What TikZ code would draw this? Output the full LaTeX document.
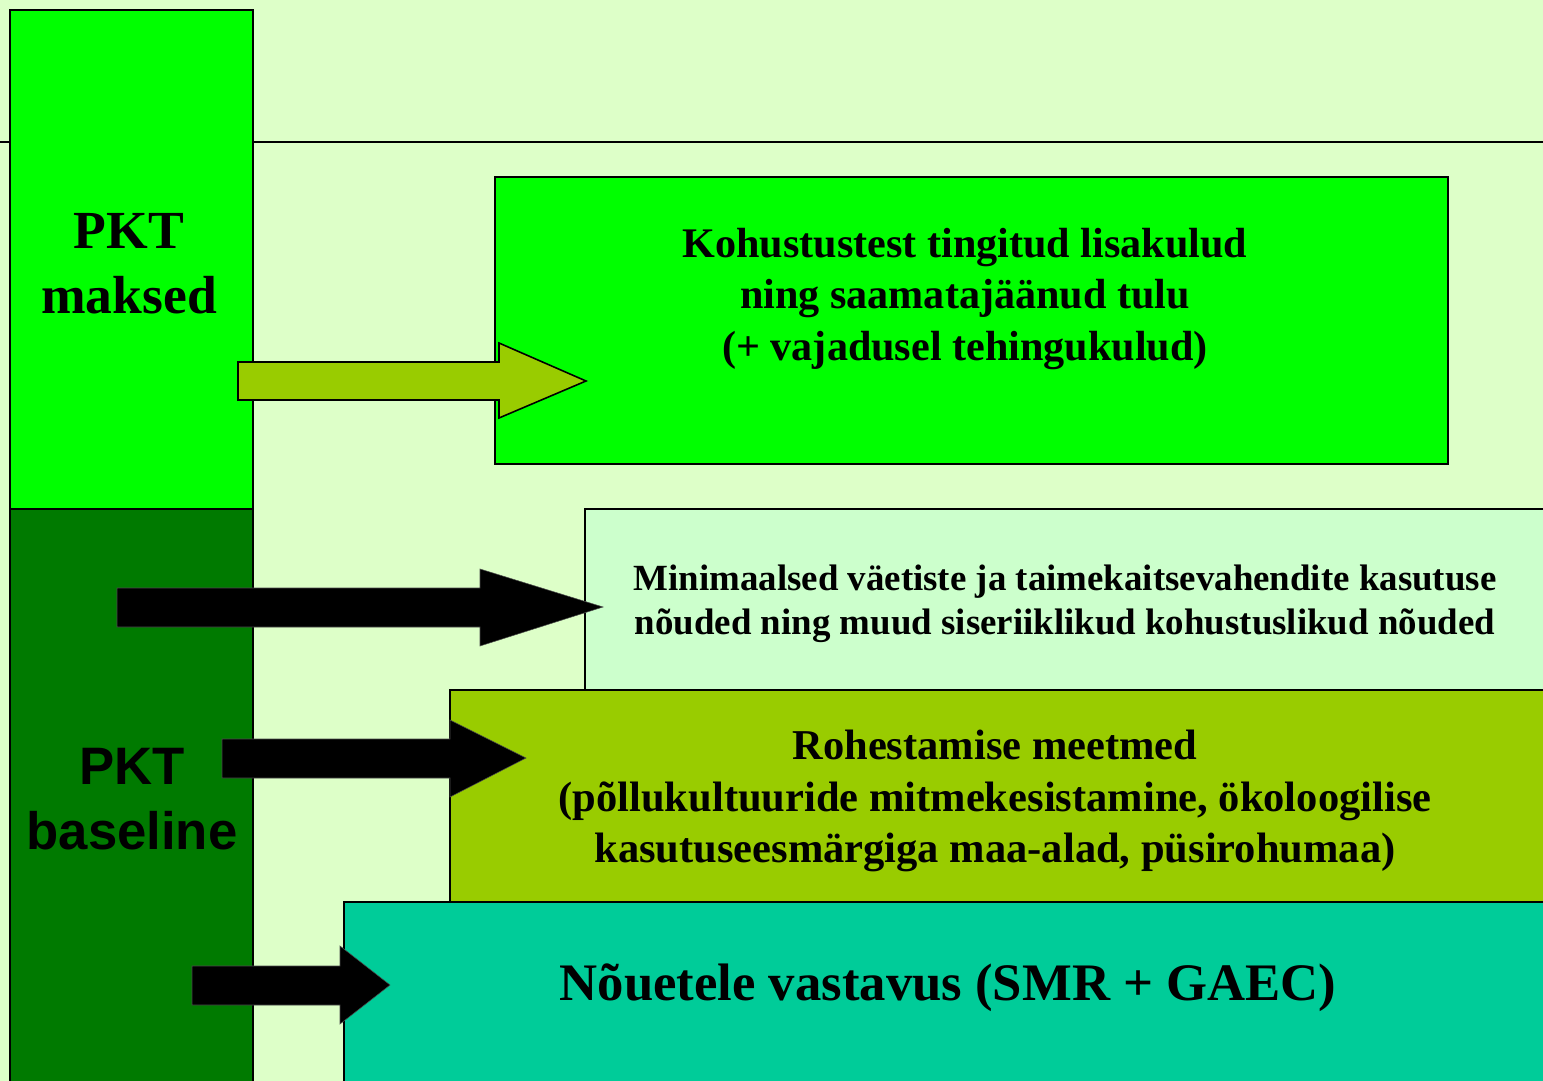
\documentclass[tikz,border=0pt]{standalone}
\usepackage{fontspec}
\setmainfont{Liberation Serif}
\newfontfamily\arialfont{Liberation Sans}
\definecolor{bgc}{HTML}{DDFFC8}
\definecolor{brightg}{HTML}{00FF00}
\definecolor{darkg}{HTML}{007A00}
\definecolor{paleg}{HTML}{CCFFCC}
\definecolor{oliveg}{HTML}{99CC00}
\definecolor{tealg}{HTML}{00CC99}
\tikzset{
  box/.style={draw=black, line width=0.9pt},
  blkarrow/.style={fill=black, draw=black!70, line width=0.3pt},
  txt/.style={align=center, inner sep=0pt, font=\bfseries},
}
\begin{document}
\begin{tikzpicture}[x=0.02cm, y=-0.02cm]
\useasboundingbox (0,0) rectangle (1543,1081);
\clip (0,0) rectangle (1543,1081);
\fill[bgc] (0,0) rectangle (1543,1081);
% horizontal rule
\draw[line width=1.2pt] (0,142) coordinate (hl) -- (1543,142) coordinate (hr);
% left column
\filldraw[box, fill=brightg] (10,10) rectangle (253,509);
\filldraw[box, fill=darkg] (10,509) rectangle (253,1100);
\node[txt, font=\bfseries\fontsize{30.5}{37}\selectfont] (maksed) at (129,264) {PKT\\maksed};
\node[txt, font=\arialfont\bfseries\fontsize{30}{37}\selectfont] (baseline) at (132,799) {PKT\\baseline};
% boxes
\filldraw[box, fill=brightg] (495,177) rectangle (1448,464);
\node[txt, font=\bfseries\fontsize{24}{29.5}\selectfont] (b1) at (965,299) {Kohustustest tingitud lisakulud\\ning saamatajäänud tulu\\(+ vajadusel tehingukulud)};
\filldraw[box, fill=paleg] (585,509) rectangle (1560,690);
\node[txt, font=\bfseries\fontsize{21}{25}\selectfont] (b2) at (1065,604) {Minimaalsed väetiste ja taimekaitsevahendite kasutuse\\nõuded ning muud siseriiklikud kohustuslikud nõuded};
\filldraw[box, fill=oliveg] (450,690) rectangle (1560,902);
\node[txt, font=\bfseries\fontsize{24.2}{29.5}\selectfont] (b3) at (995,801) {Rohestamise meetmed\\(põllukultuuride mitmekesistamine, ökoloogilise\\kasutuseesmärgiga maa-alad, püsirohumaa)};
\filldraw[box, fill=tealg] (344,902) rectangle (1560,1100);
\node[txt, font=\bfseries\fontsize{30}{34}\selectfont] (b4) at (948,988) {Nõuetele vastavus (SMR + GAEC)};
% arrows
\filldraw[fill=oliveg, draw=black, line width=0.9pt]
  (238,362) -- (499,362) -- (499,343) -- (586,381) -- (499,418) -- (499,400) -- (238,400) -- cycle;
\filldraw[blkarrow] (117,588) -- (480,588) -- (480,569) -- (603,607) -- (480,646) -- (480,627) -- (117,627) -- cycle;
\filldraw[blkarrow] (222,739) -- (450,739) -- (450,720) -- (526,758) -- (450,797) -- (450,778) -- (222,778) -- cycle;
\filldraw[blkarrow] (192,966) -- (340,966) -- (340,946) -- (390,985) -- (340,1024) -- (340,1005) -- (192,1005) -- cycle;
\end{tikzpicture}
\end{document}
